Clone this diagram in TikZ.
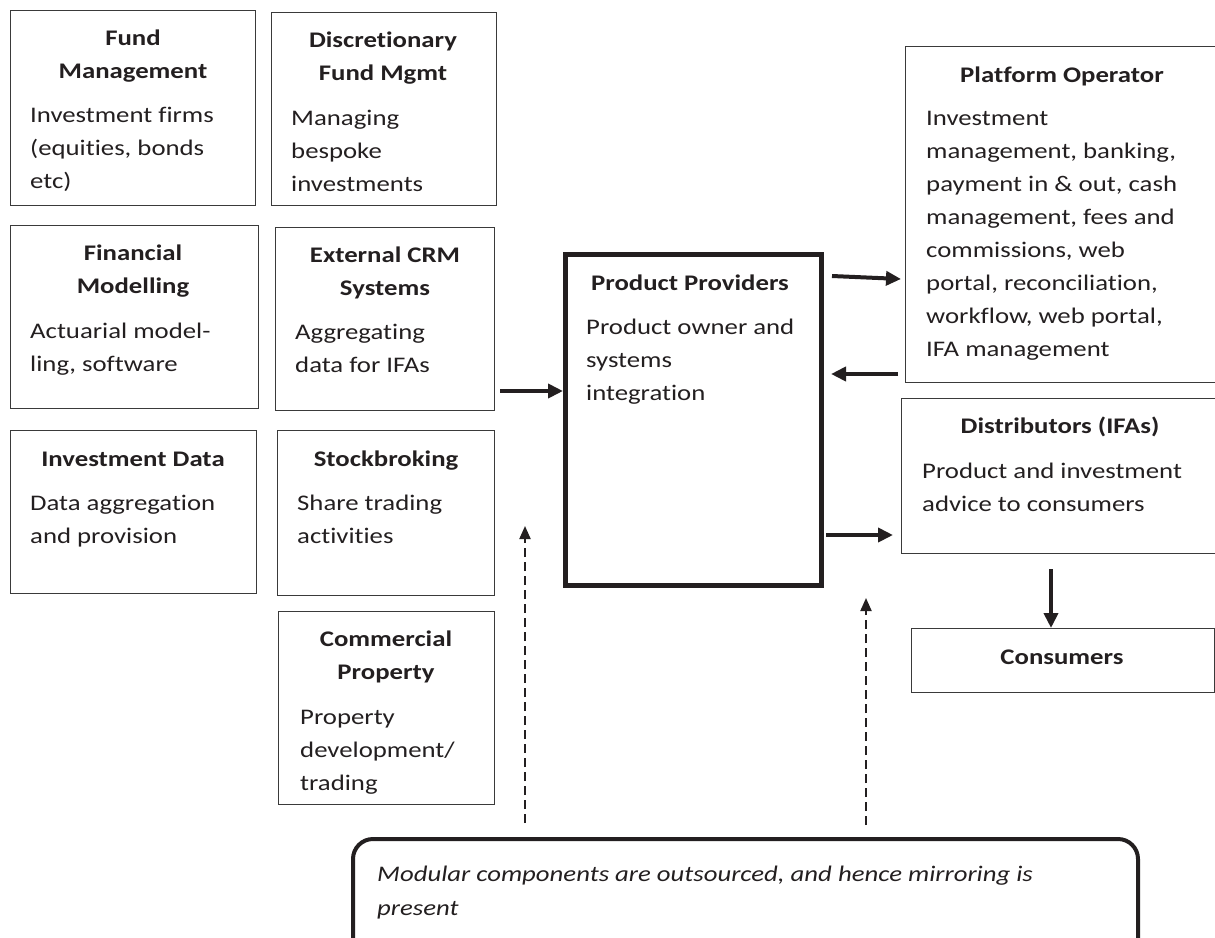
\documentclass[tikz,border=0pt]{standalone}
\usepackage{fontspec}
\setmainfont{Carlito}[FakeStretch=1.2,Ligatures=NoCommon]
\usetikzlibrary{arrows.meta}
\definecolor{edge}{HTML}{3A3A3A}
\definecolor{ink}{HTML}{231F20}
\begin{document}
\begin{tikzpicture}[x=1pt,y=-1pt,
  box/.style={draw=edge,line width=1.3pt,inner sep=0pt,anchor=north west},
  ttl/.style={font=\fontsize{22.3}{33}\selectfont\bfseries,text=ink,align=center,inner sep=0pt,anchor=north,
    execute at begin node={\rule{0pt}{24pt}}},
  ttlm/.style={ttl,yshift=-7pt},
  bdy/.style={font=\fontsize{22.3}{33}\selectfont,text=ink,align=left,inner sep=0pt,anchor=north west,
    yshift=-7.5pt,execute at begin node={\rule{0pt}{24pt}}},
  arr/.style={draw=ink,line width=4pt,-{Triangle[length=15pt,width=14pt]}},
  darr/.style={draw=ink,line width=2pt,dash pattern=on 9pt off 5pt,-{Triangle[length=13pt,width=11pt]}}]
\useasboundingbox (0,0) rectangle (1215,937);
% boxes
\node[box,minimum width=245,minimum height=195] (fm) at (10,10) {};
\node[box,minimum width=225,minimum height=193] (dfm) at (271,12) {};
\node[box,minimum width=248,minimum height=183] (fin) at (10,225) {};
\node[box,minimum width=219,minimum height=183] (crm) at (275,227) {};
\node[box,minimum width=246,minimum height=163] (idt) at (10,430) {};
\node[box,minimum width=217,minimum height=165] (stk) at (277,430) {};
\node[box,minimum width=216,minimum height=193] (cp) at (278,611) {};
\node[box,draw=ink,line width=5pt,minimum width=256,minimum height=331] (pp) at (563,252) {};
\node[box,minimum width=312,minimum height=336] (po) at (905,46) {};
\node[box,minimum width=316,minimum height=155] (dis) at (901,398) {};
\node[box,minimum width=303,minimum height=64] (con) at (911,628) {};
\draw[draw=ink,line width=4pt,rounded corners=20pt] (353,939) |- (1138,839) -- (1138,939);
% texts
\node[ttlm] (fmt) at (133,23) {Fund\\Management};
\node[bdy] (fmb) at (30,99) {Investment firms\\(equities, bonds\\etc)};
\node[ttlm] (dfmt) at (383,25) {Discretionary\\Fund Mgmt};
\node[bdy] (dfmb) at (291,102) {Managing\\bespoke\\investments};
\node[ttlm] (fint) at (133,238) {Financial\\Modelling};
\node[bdy] (finb) at (30,315) {Actuarial model-\\ling, software};
\node[ttlm] (crmt) at (385,240) {External CRM\\Systems};
\node[bdy] (crmb) at (295,316) {Aggregating\\data for IFAs};
\node[ttl] (idtt) at (133,442) {Investment Data};
\node[bdy] (idtb) at (30,487) {Data aggregation\\and provision};
\node[ttl] (stkt) at (386,442) {Stockbroking};
\node[bdy] (stkb) at (297,487) {Share trading\\activities};
\node[ttlm] (cpt) at (386,624) {Commercial\\Property};
\node[bdy] (cpb) at (300,702) {Property\\development/\\trading};
\node[ttl] (ppt) at (690,266) {Product Providers};
\node[bdy] (ppb) at (586,311) {Product owner and\\systems\\integration};
\node[ttl] (pot) at (1062,58) {Platform Operator};
\node[bdy] (pob) at (926,103) {Investment\\management, banking,\\payment in \& out, cash\\management, fees and\\commissions, web\\portal, reconciliation,\\workflow, web portal,\\IFA management};
\node[ttl] (dist) at (1060,409) {Distributors (IFAs)};
\node[bdy] (disb) at (922,455) {Product and investment\\advice to consumers};
\node[ttl] (cont) at (1062,640) {Consumers};
\node[bdy,font=\fontsize{22.3}{34}\selectfont\itshape] (note) at (377,858) {Modular components are outsourced, and hence mirroring is\\present};
% arrows
\coordinate (a1) at (500,391);
\draw[arr] (a1) -- (a1 -| pp.west);
\coordinate (a2s) at (832,276);
\coordinate (a2e) at (901,279);
\draw[arr] (a2s) -- (a2e);
\coordinate (a3s) at (898,374);
\coordinate (a3e) at (831,374);
\draw[arr] (a3s) -- (a3e);
\coordinate (a4s) at (826,535);
\coordinate (a4e) at (893,535);
\draw[arr] (a4s) -- (a4e);
\coordinate (a5) at (1051,569);
\draw[arr] (a5) -- (a5 |- con.north);
\coordinate (d1s) at (525,823);
\coordinate (d1e) at (525,526);
\draw[darr] (d1s) -- (d1e);
\coordinate (d2s) at (866,825);
\coordinate (d2e) at (866,598);
\draw[darr] (d2s) -- (d2e);
\end{tikzpicture}
\end{document}
